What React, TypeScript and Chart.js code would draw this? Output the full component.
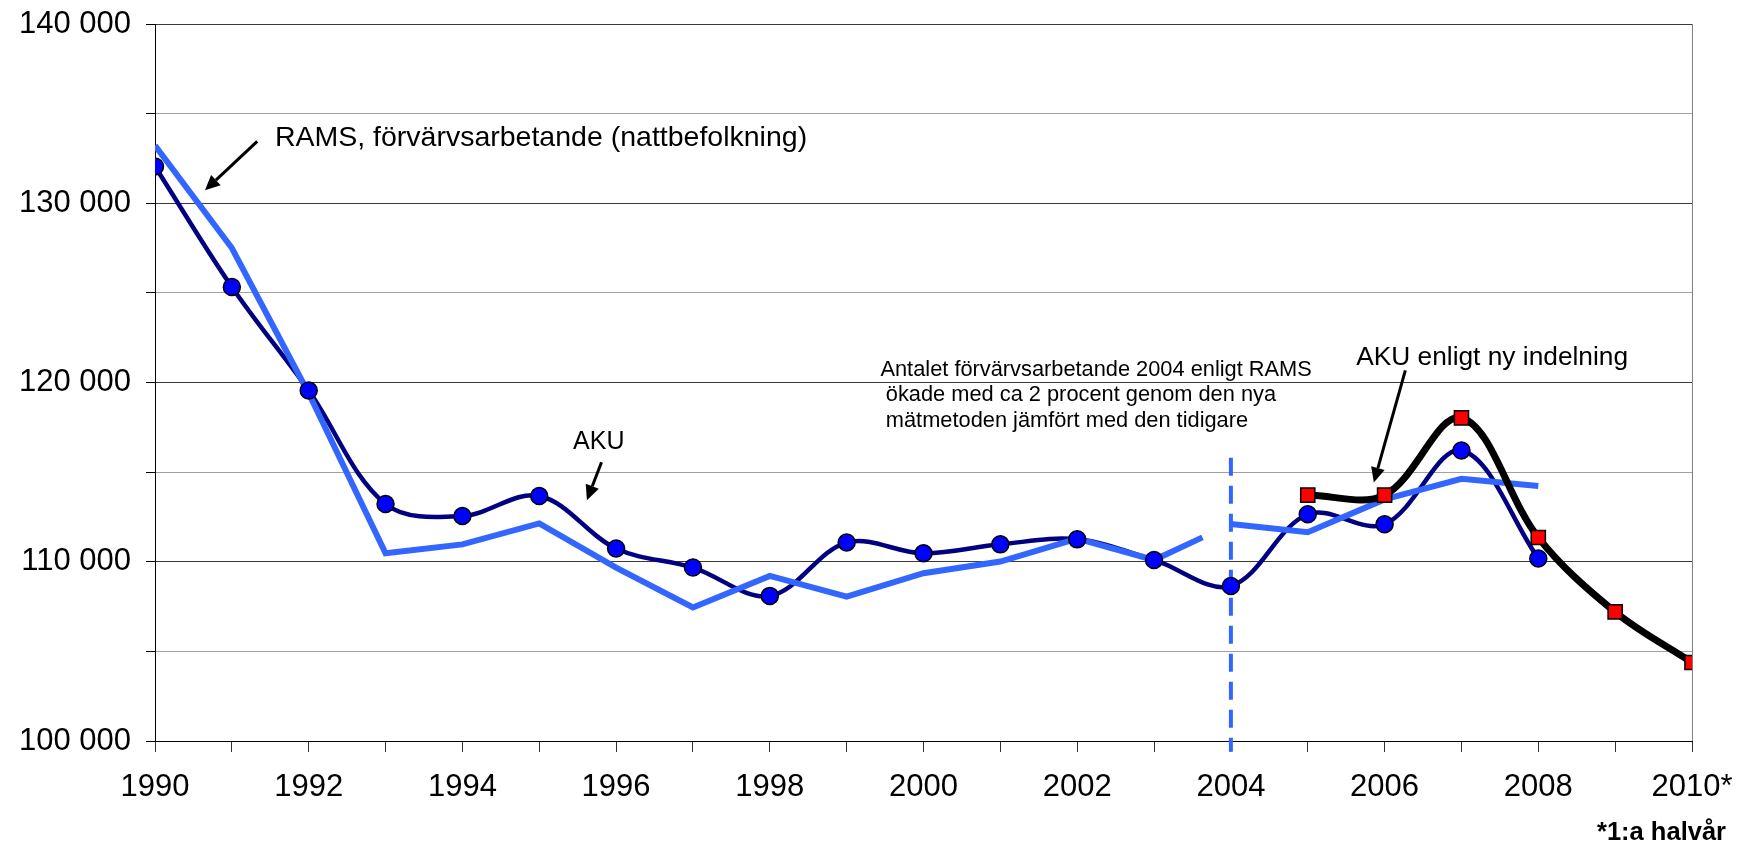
import React, { useEffect, useRef } from 'react';
import { Chart, registerables } from 'chart.js';

Chart.register(...registerables);

// ---- data ----
const ramsYears = [1990, 1991, 1992, 1993, 1994, 1995, 1996, 1997, 1998, 1999, 2000, 2001, 2002, 2003, 2004, 2005, 2006, 2007, 2008];
const ramsValues = [132050, 125330, 119550, 113220, 112550, 113670, 110735, 109677, 108095, 111070, 110470, 110970, 111250, 110100, 108650, 112650, 112090, 116210, 110180];

const akuOldYears = [1990, 1991, 1992, 1993, 1994, 1995, 1996, 1997, 1998, 1999, 2000, 2001, 2002, 2003, 2003.63];
const akuOldValues = [133220, 127500, 119400, 110470, 110970, 112140, 109677, 107450, 109210, 108060, 109360, 110010, 111290, 110100, 111360];

const akuNewYears = [2004, 2005, 2006, 2007, 2008];
const akuNewValues = [112100, 111650, 113480, 114630, 114220];

const akuNyYears = [2005, 2006, 2007, 2008, 2009, 2010];
const akuNyValues = [113720, 113720, 118030, 111350, 107200, 104380];

const breakYears = [2004, 2004];
const breakValues = [115800, 99400];

const xTickYears = [1990, 1992, 1994, 1996, 1998, 2000, 2002, 2004, 2006, 2008, 2010];
const xTickTexts = ['1990', '1992', '1994', '1996', '1998', '2000', '2002', '2004', '2006', '2008', '2010*'];

const yLabelValues = [100000, 110000, 120000, 130000, 140000];
const yLabelTexts = ['100 000', '110 000', '120 000', '130 000', '140 000'];

const footnote = '*1:a halvår';

// ---- annotations (data coordinates) ----
const notes = [
  { text: 'RAMS, förvärvsarbetande (nattbefolkning)', x: 1991.56, y: 133212, size: 28.5 },
  { text: 'AKU', x: 1995.44, y: 116313, size: 25 },
  { text: 'Antalet förvärvsarbetande 2004 enligt RAMS', x: 1999.44, y: 120350, size: 21.8 },
  { text: 'ökade med ca 2 procent genom den nya', x: 1999.51, y: 118950, size: 21.8 },
  { text: 'mätmetoden jämfört med den tidigare', x: 1999.51, y: 117520, size: 21.8 },
  { text: 'AKU enligt ny indelning', x: 2005.63, y: 120998, size: 26.3 },
];
const arrows = [
  { x1: 1991.33, y1: 133452, x2: 1990.65, y2: 130720 },
  { x1: 1995.81, y1: 115549, x2: 1995.62, y2: 113430 },
  { x1: 2006.27, y1: 120680, x2: 2005.86, y2: 114417 },
];

const FONT = '"Liberation Sans", Arial, sans-serif';

const pts = (xs: number[], ys: number[]) => xs.map((x, i) => ({ x, y: ys[i] }));

const annotationPlugin = {
  id: 'notes',
  afterDraw(chart: any) {
    const { ctx } = chart;
    const xs = chart.scales.x;
    const ys = chart.scales.y;
    ctx.save();
    ctx.fillStyle = '#000';
    ctx.textAlign = 'left';
    ctx.textBaseline = 'alphabetic';
    for (const n of notes) {
      ctx.font = `${n.size}px ${FONT}`;
      ctx.fillText(n.text, xs.getPixelForValue(n.x), ys.getPixelForValue(n.y));
    }
    ctx.strokeStyle = '#000';
    ctx.lineWidth = 3;
    for (const a of arrows) {
      const x1 = xs.getPixelForValue(a.x1);
      const y1 = ys.getPixelForValue(a.y1);
      const x2 = xs.getPixelForValue(a.x2);
      const y2 = ys.getPixelForValue(a.y2);
      const ang = Math.atan2(y2 - y1, x2 - x1);
      const L = 15;
      const W = 7;
      const bx = x2 - L * Math.cos(ang);
      const by = y2 - L * Math.sin(ang);
      ctx.beginPath();
      ctx.moveTo(x1, y1);
      ctx.lineTo(bx, by);
      ctx.stroke();
      ctx.beginPath();
      ctx.moveTo(x2, y2);
      ctx.lineTo(bx + W * Math.sin(ang), by - W * Math.cos(ang));
      ctx.lineTo(bx - W * Math.sin(ang), by + W * Math.cos(ang));
      ctx.closePath();
      ctx.fill();
    }
    ctx.font = `bold 25.5px ${FONT}`;
    ctx.textAlign = 'right';
    ctx.fillText(footnote, chart.chartArea.right + 34, chart.height - 3);
    ctx.restore();
  },
};

export default function App() {
  const ref = useRef<HTMLCanvasElement | null>(null);
  useEffect(() => {
    if (!ref.current) return;
    const chart = new Chart(ref.current, {
      type: 'line',
      data: {
        datasets: [
          {
            data: pts(ramsYears, ramsValues),
            showLine: false,
            pointRadius: 8.5,
            pointBackgroundColor: '#0000FF',
            pointBorderColor: '#000',
            pointBorderWidth: 1.5,
          },
          {
            data: pts(akuNyYears, akuNyValues),
            borderColor: '#000',
            borderWidth: 7,
            tension: 0.35,
            pointStyle: 'rect',
            pointRadius: 10,
            pointBackgroundColor: '#FF0000',
            pointBorderColor: '#000',
            pointBorderWidth: 1.5,
            borderJoinStyle: 'round',
          },
          {
            data: pts(akuOldYears, akuOldValues),
            borderColor: '#3366FF',
            borderWidth: 6,
            tension: 0,
            pointRadius: 0,
          },
          {
            data: pts(akuNewYears, akuNewValues),
            borderColor: '#3366FF',
            borderWidth: 6,
            tension: 0,
            pointRadius: 0,
          },
          {
            data: pts(breakYears, breakValues),
            borderColor: '#3366FF',
            borderWidth: 4,
            borderDash: [18, 10],
            pointRadius: 0,
            clip: false as any,
          },
          {
            data: pts(ramsYears, ramsValues),
            borderColor: '#000080',
            borderWidth: 4.5,
            tension: 0.35,
            pointRadius: 0,
            borderJoinStyle: 'round',
          },
        ] as any,
      },
      options: {
        responsive: false,
        animation: false,
        events: [],
        layout: { padding: { left: 0, right: 52, top: 24, bottom: 0 } },
        plugins: { legend: { display: false }, tooltip: { enabled: false } },
        scales: {
          x: {
            type: 'linear',
            min: 1990,
            max: 2010,
            afterFit: (s: any) => {
              s.height = 102;
              s.paddingLeft = 0;
              s.paddingRight = 0;
            },
            ticks: {
              stepSize: 1,
              autoSkip: false,
              maxRotation: 0,
              padding: 17,
              color: '#000',
              font: { family: FONT, size: 31 },
              callback: (v: any) => {
                const i = xTickYears.indexOf(Number(v));
                return i >= 0 ? xTickTexts[i] : '';
              },
            },
            grid: {
              drawOnChartArea: true,
              color: (c: any) => (c.tick && c.tick.value === 2010 ? '#808080' : 'rgba(0,0,0,0)'),
              tickColor: '#333',
              tickLength: 11,
              lineWidth: 1,
            },
            border: { display: true, color: '#000', width: 1 },
          },
          y: {
            min: 100000,
            max: 140000,
            afterFit: (s: any) => {
              s.width = 155;
              s.paddingTop = 0;
              s.paddingBottom = 0;
            },
            ticks: {
              stepSize: 5000,
              padding: 15,
              color: '#000',
              font: { family: FONT, size: 31 },
              callback: (v: any) => {
                const i = yLabelValues.indexOf(Number(v));
                return i >= 0 ? yLabelTexts[i] : '';
              },
            },
            grid: {
              color: (c: any) => (c.tick && c.tick.value % 10000 === 0 ? '#3a3a3a' : '#a0a0a0'),
              tickColor: '#000',
              tickLength: 9,
              lineWidth: 1,
            },
            border: { display: true, color: '#000', width: 1 },
          },
        },
      } as any,
      plugins: [annotationPlugin],
    });
    return () => chart.destroy();
  }, []);
  return (
    <div style={{ position: 'fixed', left: 0, top: 0, width: 1744, height: 843, background: '#fff' }}>
      <canvas ref={ref} width={1744} height={843} style={{ display: 'block' }} />
    </div>
  );
}
